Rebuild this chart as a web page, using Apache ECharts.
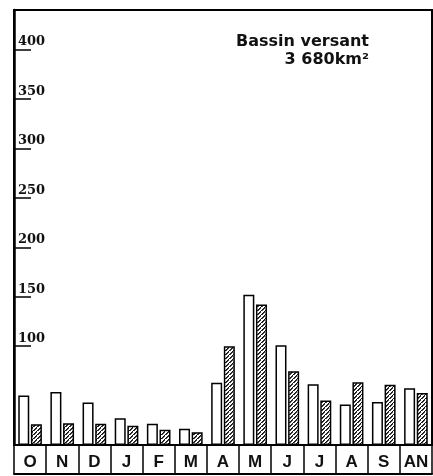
<!DOCTYPE html>
<html>
<head>
<meta charset="utf-8">
<script src="https://cdn.jsdelivr.net/npm/echarts@6/dist/echarts.min.js"></script>
<style>html,body{margin:0;padding:0;background:#fff}#c{width:433px;height:476px}</style>
</head>
<body>
<div id="c"></div>
<script>
const months = ['O','N','D','J','F','M','A','M','J','J','A','S','AN'];
const seriesWhite = [50, 53.5, 43, 27, 21.5, 16.5, 63, 152, 101, 61.5, 41, 43.5, 57.5];
const seriesHatched = [21, 22, 21.5, 19.5, 15.5, 13, 100, 142, 74.5, 45, 63.5, 61, 52.5];
const yTicks = [100, 150, 200, 250, 300, 350, 400];
const titleLine1 = 'Bassin versant';
const titleLine2 = '3 680km²';

function makePattern() {
  const c = document.createElement('canvas');
  c.width = 4; c.height = 4;
  const g = c.getContext('2d');
  g.fillStyle = '#fff'; g.fillRect(0, 0, 4, 4);
  g.fillStyle = '#111';
  g.fillRect(3, 0, 1, 1); g.fillRect(2, 1, 1, 1); g.fillRect(1, 2, 1, 1); g.fillRect(0, 3, 1, 1);
  g.fillStyle = '#444';
  g.fillRect(0, 0, 1, 1); g.fillRect(2, 2, 1, 1); g.fillRect(3, 1, 1, 1);
  return c;
}

const chart = echarts.init(document.getElementById('c'), null, {renderer: 'canvas'});
chart.setOption({
  animation: false,
  backgroundColor: '#fff',
  title: [
    {text: titleLine1, right: 59, top: 29, textStyle: {fontFamily: 'DejaVu Sans', fontWeight: 'bold', fontSize: 16, color: '#111'}},
    {text: titleLine2, right: 59, top: 47, textStyle: {fontFamily: 'DejaVu Sans', fontWeight: 'bold', fontSize: 16, color: '#111'}}
  ],
  grid: {left: 14, right: 1, top: 10, bottom: 31, show: true, borderColor: '#000', borderWidth: 2, backgroundColor: 'transparent'},
  xAxis: [{
    type: 'category',
    data: months,
    axisLine: {show: true, lineStyle: {color: '#000', width: 2}},
    axisTick: {show: true, length: 29, interval: 0, lineStyle: {color: '#000', width: 1.5}},
    axisLabel: {interval: 0, margin: 9, fontFamily: 'Liberation Sans', fontWeight: 'bold', fontSize: 17, color: '#111'},
    splitLine: {show: false}
  }, {
    type: 'category',
    data: months,
    position: 'bottom',
    offset: 29,
    axisLine: {show: true, lineStyle: {color: '#000', width: 2}},
    axisTick: {show: false},
    axisLabel: {show: false}
  }],
  yAxis: {
    type: 'value',
    min: 0,
    max: 440,
    axisLine: {show: true, lineStyle: {color: '#000', width: 2.5}},
    axisTick: {show: true, inside: true, length: 17, customValues: yTicks, lineStyle: {color: '#000', width: 1.5}},
    axisLabel: {show: true, inside: true, customValues: yTicks, margin: 4, verticalAlign: 'bottom', align: 'left',
      fontFamily: 'DejaVu Serif', fontWeight: 'bold', fontSize: 13, color: '#111', padding: [0, 0, 1, 0]},
    splitLine: {show: false}
  },
  series: [{
    type: 'bar',
    data: seriesWhite,
    barWidth: 11,
    barGap: '15%',
    itemStyle: {color: '#fff', borderColor: '#000', borderWidth: 1.5}
  }, {
    type: 'bar',
    data: seriesHatched,
    barWidth: 11,
    itemStyle: {color: {image: makePattern(), repeat: 'repeat'}, borderColor: '#000', borderWidth: 1.5}
  }]
});
</script>
</body>
</html>
